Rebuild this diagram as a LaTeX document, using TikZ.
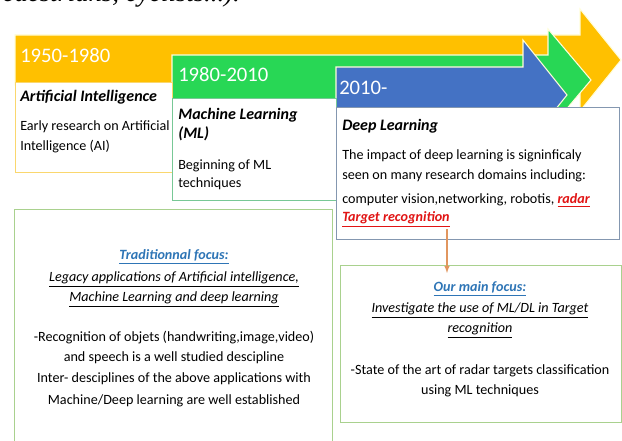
\documentclass[tikz,border=0pt]{standalone}
\usepackage{fontspec}
\setmainfont{Carlito}
\newfontfamily\timesfont{Liberation Serif}
\usepackage{tikz}
\definecolor{orangefr}{RGB}{255,192,0}
\definecolor{vertfr}{RGB}{40,215,85}
\definecolor{bleufr}{RGB}{68,114,196}
\definecolor{aibord}{RGB}{250,215,110}
\definecolor{mlbord}{RGB}{120,200,150}
\definecolor{dlbord}{RGB}{132,151,176}
\definecolor{focusbord}{RGB}{169,209,142}
\definecolor{bleutxt}{RGB}{46,117,182}
\definecolor{rougetxt}{RGB}{225,20,20}
\definecolor{flecheorange}{RGB}{225,150,95}
\tikzstyle{fleche}=[draw=white!85!yellow, line width=0.8pt]
\tikzstyle{boite}=[draw, fill=white, line width=0.75pt, anchor=north west, inner sep=0pt]
\tikzstyle{annee}=[anchor=base west, inner sep=0pt, text=white, font=\fontsize{15.5}{18}\selectfont]
\tikzstyle{titre}=[anchor=base west, inner sep=0pt, font=\fontsize{12}{14}\selectfont\bfseries\itshape]
\tikzstyle{corps}=[anchor=base west, inner sep=0pt, font=\fontsize{10.6}{12}\selectfont]
\tikzstyle{centre}=[corps, anchor=base]

\begin{document}
\begin{tikzpicture}[x=0.75pt,y=-0.75pt]
\useasboundingbox (0,0) rectangle (622,441);
\clip (0,0) rectangle (622,441);

\node[anchor=base east, inner sep=0pt, font=\timesfont\itshape\fontsize{20}{22}\selectfont] (haut) at (240,2) {pedestrians, cyclists...).};

% fleches
\foreach \xg/\yh/\yb/\xp/\yp/\xb/\yc/\coul in {15/35/85/580/9/621/60/orangefr, 172/55/105/548/29/591/80/vertfr, 336/67/123/523/40/567/95/bleufr}
\draw[fleche, fill=\coul] (\xg,\yh) -- (\xp,\yh) -- (\xp,\yp) -- (\xb,\yc) -- (\xp,2*\yc-\yp) -- (\xp,\yb) -- (\xg,\yb) -- cycle;

% boites
\node[boite, draw=aibord, minimum width=157*0.75pt, minimum height=90*0.75pt] (ai) at (15,82) {};
\node[boite, draw=mlbord, minimum width=164*0.75pt, minimum height=102*0.75pt] (ml) at (172,98) {};
\node[boite, draw=dlbord, minimum width=283*0.75pt, minimum height=132*0.75pt] (dl) at (336,107) {};
\node[boite, draw=focusbord, minimum width=318*0.75pt, minimum height=250*0.75pt] (trad) at (14,209) {};
\node[boite, draw=focusbord, minimum width=281*0.75pt, minimum height=157*0.75pt] (focus) at (340,265) {};

% 1950-1980
\node[annee] (an1) at (20,63) {1950-1980};
\node[titre] (ai1) at (20,102) {Artificial Intelligence};
\node[corps] (ai2) at (20,131) {Early research on Artificial};
\node[corps] (ai3) at (20,151) {Intelligence (AI)};

% 1980-2010
\node[annee] (an2) at (178,82) {1980-2010};
\node[titre] (ml1) at (178,120) {Machine Learning};
\node[titre] (ml2) at (178,139) {(ML)};
\node[corps] (ml3) at (178,170) {Beginning of ML};
\node[corps] (ml4) at (178,188) {techniques};

% 2010-
\node[annee] (an3) at (339,95) {2010-};
\node[titre] (dl1) at (342,131) {Deep Learning};
\node[corps] (dl2) at (342,160) {The impact of deep learning is signinficaly};
\node[corps] (dl3) at (342,180) {seen on many research domains including:};
\node[corps] (dl4) at (342,204) {computer vision,networking, robotis, {\color{rougetxt}\bfseries\itshape\underline{radar}}};
\node[corps, text=rougetxt, font=\fontsize{10.6}{12}\selectfont\bfseries\itshape] (dl5) at (342,222) {\underline{Target recognition}};

% focus traditionnel
\node[centre, text=bleutxt, font=\fontsize{10.6}{12}\selectfont\bfseries\itshape] (tr1) at (174,260) {\underline{Traditionnal focus:}};
\node[centre, font=\fontsize{10.6}{12}\selectfont\itshape] (tr2) at (174,282) {\underline{Legacy applications of Artificial intelligence,}};
\node[centre, font=\fontsize{10.6}{12}\selectfont\itshape] (tr3) at (174,302) {\underline{Machine Learning and deep learning}};
\node[centre] (tr4) at (174,342) {-Recognition of objets (handwriting,image,video)};
\node[centre] (tr5) at (174,362) {and speech is a well studied descipline};
\node[centre] (tr6) at (174,383) {Inter- desciplines of the above applications with};
\node[centre] (tr7) at (174,405) {Machine/Deep learning are well established};

% notre focus
\node[centre, text=bleutxt, font=\fontsize{10.6}{12}\selectfont\bfseries\itshape] (fo1) at (480,292) {\underline{Our main focus:}};
\node[centre, font=\fontsize{10.6}{12}\selectfont\itshape] (fo2) at (480,313) {\underline{Investigate the use of ML/DL in Target}};
\node[centre, font=\fontsize{10.6}{12}\selectfont\itshape] (fo3) at (480,333) {\underline{recognition}};
\node[centre] (fo4) at (480,375) {-State of the art of radar targets classification};
\node[centre] (fo5) at (480,395) {using ML techniques};

\coordinate (depart) at (447,229);
\coordinate (arrivee) at (447,273);
\draw[flecheorange, line width=0.8pt, -latex] (depart) -- (arrivee);

\end{tikzpicture}
\end{document}
